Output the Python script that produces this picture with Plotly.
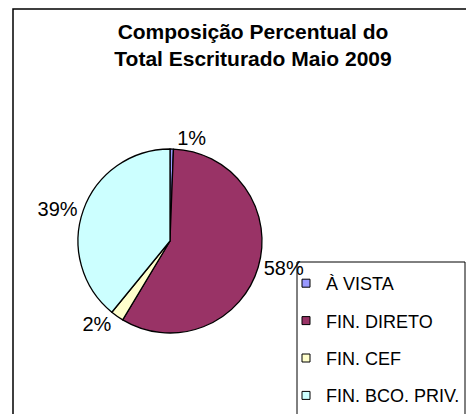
import plotly.graph_objects as go

W, H = 474, 414
OFF = 8  # default page body margin in the browser
FW, FH = W - OFF, H - OFF

categories = ["À VISTA", "FIN. DIRETO", "FIN. CEF", "FIN. BCO. PRIV."]
values = [0.6, 58.0, 2.3, 39.1]
colors = ["#9999FF", "#993366", "#FFFFCC", "#CCFFFF"]
title_text = "Composição Percentual do<br>Total Escriturado Maio 2009"

FONT = "Liberation Sans, Arial, sans-serif"

def px_x(v):
    return (v - OFF) / FW

def px_y(v):
    return 1 - (v - OFF) / FH

fig = go.Figure()

fig.add_trace(go.Pie(
    labels=categories,
    values=values,
    marker=dict(colors=colors, line=dict(color="black", width=1.3)),
    sort=False,
    direction="clockwise",
    rotation=0,
    textposition="outside",
    texttemplate="%{percent:.0%}",
    textfont=dict(family=FONT, size=20, color="black"),
    showlegend=False,
    domain=dict(x=[px_x(78), px_x(262)], y=[px_y(333), px_y(149)]),
    hoverinfo="label+percent",
))

for name, color in zip(categories, colors):
    fig.add_trace(go.Scatter(
        x=[None], y=[None], mode="markers", name=name, legendgroup=name,
        marker=dict(symbol="square", size=8, color=color,
                    line=dict(color="black", width=1)),
    ))

fig.update_layout(
    width=FW, height=FH,
    margin=dict(l=0, r=0, t=0, b=0, autoexpand=False),
    paper_bgcolor="white", plot_bgcolor="white",
    xaxis=dict(visible=False), yaxis=dict(visible=False),
    title=dict(text=title_text, x=px_x(253), xanchor="center",
               y=px_y(39), yanchor="top",
               font=dict(family=FONT, size=21, color="black", weight="bold")),
    legend=dict(x=px_x(286), xanchor="left", y=px_y(265), yanchor="top",
                font=dict(family=FONT, size=18, color="black"),
                tracegroupgap=11, bgcolor="rgba(0,0,0,0)", borderwidth=0),
    shapes=[
        dict(type="rect", xref="paper", yref="paper",
             x0=px_x(13), x1=1.1, y0=px_y(9), y1=-0.1,
             line=dict(color="black", width=1.5), fillcolor="rgba(0,0,0,0)"),
        dict(type="rect", xref="paper", yref="paper",
             x0=px_x(297), x1=px_x(465), y0=px_y(262), y1=-0.1,
             line=dict(color="black", width=1), fillcolor="rgba(0,0,0,0)"),
    ],
)

fig.write_html("out.html")
